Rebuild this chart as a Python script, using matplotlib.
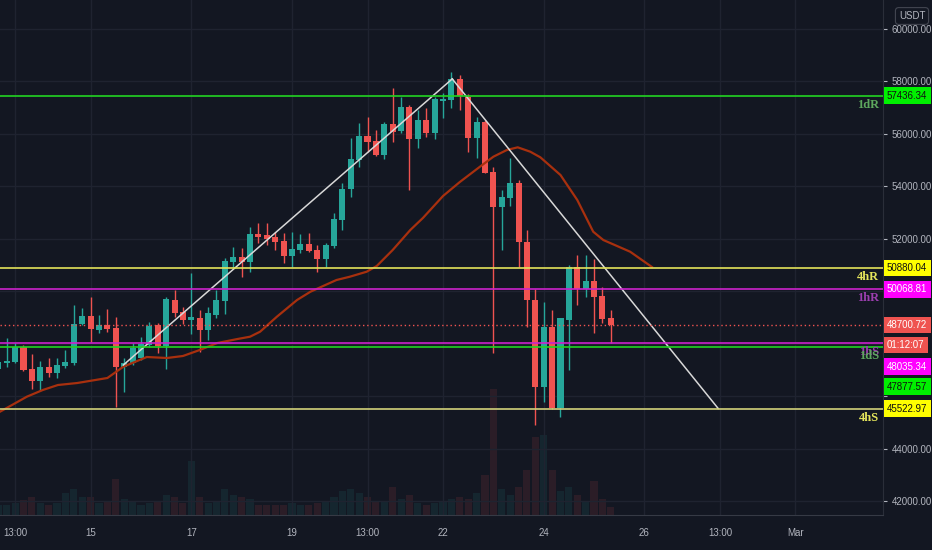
import numpy as np
import pandas as pd
import matplotlib
matplotlib.use('Agg')
import matplotlib.pyplot as plt
import matplotlib.dates as mdates
from matplotlib import font_manager
from matplotlib.transforms import blended_transform_factory

# BTC/USDT 4h candles (first candle 13 Feb 04:00)
opens = [47030, 47270, 47307, 47878, 47029, 46583, 47116, 46865, 47155, 47246,
         48731, 49048, 48514, 48705, 48590, 47116, 47269, 47448, 47943, 48705,
         47916, 49657, 49189, 48895, 48983, 48514, 49086, 49630, 51093, 51307,
         51117, 52171, 52133, 52046, 51905, 51333, 51562, 51790, 51562, 51219,
         51714, 52705, 53874, 54990, 55916, 55714, 55181, 56362, 56095, 56998,
         55790, 56514, 56031, 57250, 57276, 58065, 57402, 55840, 56450, 54533,
         53212, 53554, 54103, 51886, 49657, 46354, 48640, 45531, 48895, 50903,
         50065, 50393, 49822, 48960]
highs = [47560, 48210, 48019, 47943, 47600, 47345, 47448, 47448, 47752, 49467,
         49352, 49772, 49086, 49314, 49010, 47460, 48019, 48248, 48831, 48781,
         49784, 50038, 49379, 50697, 49276, 49403, 50038, 51245, 51688, 51627,
         52450, 52602, 52579, 52259, 52198, 52259, 52171, 52198, 51752, 51817,
         52983, 54103, 55817, 56389, 56640, 56133, 56450, 57722, 57402, 57086,
         56895, 56960, 57402, 57531, 58354, 58229, 57505, 56640, 56514, 54735,
         53848, 55055, 54229, 52324, 50065, 49593, 49276, 48971, 50990, 51371,
         51371, 51208, 50164, 49276]
lows = [46910, 47105, 47257, 46971, 46267, 46202, 46724, 46686, 47067, 47181,
        48705, 48057, 48400, 48438, 45592, 46164, 47181, 47371, 47878, 47650,
        47017, 49021, 48743, 48362, 47688, 48133, 48960, 49112, 50903, 50545,
        50735, 51817, 51752, 51562, 51055, 50903, 51436, 51497, 50735, 50926,
        51627, 52324, 53592, 54735, 55307, 55143, 55017, 55688, 56008, 53848,
        55436, 55878, 55790, 56579, 56960, 56895, 55307, 55055, 54484, 47627,
        51562, 53238, 50926, 48610, 44895, 45783, 45493, 45212, 46990, 49467,
        49783, 48389, 48793, 48030]
closes = [47295, 47345, 47878, 46990, 46583, 47116, 46865, 47181, 47295, 48743,
          49048, 48552, 48693, 48541, 47116, 47269, 47829, 47981, 48667, 47916,
          49684, 49150, 48895, 48998, 48514, 49150, 49657, 51143, 51307, 51117,
          52171, 52069, 51969, 51855, 51333, 51600, 51779, 51524, 51219, 51753,
          52731, 53886, 55017, 55916, 55665, 55181, 56362, 56069, 56998, 55790,
          56514, 56031, 57303, 57303, 58065, 57429, 55840, 56450, 54507, 53212,
          53593, 54103, 51855, 49657, 46354, 48640, 45531, 48960, 50903, 50065,
          50393, 49783, 48934, 48700.72]
volumes = [10, 10, 12, 15, 18, 12, 10, 12, 22, 26, 18, 18, 12, 14, 36, 16, 14,
           10, 12, 14, 20, 18, 12, 54, 18, 12, 14, 26, 20, 18, 16, 10, 10, 10,
           10, 12, 10, 10, 12, 14, 18, 24, 26, 22, 18, 14, 14, 28, 16, 20, 12,
           10, 12, 14, 16, 18, 16, 22, 40, 125, 26, 20, 28, 45, 78, 80, 45, 24,
           28, 20, 14, 34, 16, 8]

# moving average, read as (candle index, price)
ma_idx = [0.2, 3.4, 5.3, 7.1, 9.4, 13.0, 14.9, 17.7, 20.1, 22.0, 24.0, 26.1,
          28.5, 30.0, 31.2, 33.2, 35.6, 37.2, 40.3, 41.9, 43.9, 45.1, 47.0,
          49.1, 50.6, 53.0, 55.0, 57.4, 59.0, 60.6, 61.9, 63.4, 64.6, 67.0,
          69.0, 70.9, 72.1, 75.3, 77.9]
ma_val = [45402, 45974, 46229, 46419, 46495, 46686, 47116, 47486, 47448, 47524,
          47752, 48019, 48171, 48259, 48450, 49021, 49657, 49973, 50419, 50545,
          50735, 50952, 51562, 52324, 52781, 53619, 54152, 54735, 55116, 55371,
          55474, 55307, 55093, 54419, 53467, 52259, 51943, 51497, 50914]

# drawn trend lines: (candle index, price) pairs
trend_up = [(14.9, 47181), (54.1, 58080)]
trend_down = [(54.1, 58080), (85.8, 45523)]

# horizontal levels
levels = [('1dR', 57436.34), ('4hR', 50880.04), ('1hR', 50068.81),
          ('1hS', 48035.34), ('1dS', 47877.57), ('4hS', 45522.97)]
last_price = 48700.72
countdown = '01:12:07'

tick_dates = ['2021-02-13 12:00', '2021-02-15 00:00', '2021-02-17 00:00',
              '2021-02-19 00:00', '2021-02-20 12:00', '2021-02-22 00:00',
              '2021-02-24 00:00', '2021-02-26 00:00', '2021-02-27 12:00',
              '2021-03-01 00:00']
tick_labels = ['13:00', '15', '17', '19', '13:00', '22', '24', '26', '13:00', 'Mar']
price_ticks = list(range(42000, 60001, 2000))
# scale labels covered by the level boxes on the reference
hidden_ticks = [46000, 48000, 50000]

BG = '#131722'
GRID = '#1f2330'
TXT = '#b2b5be'
UP = '#26a69a'
DOWN = '#ef5350'

names = {f.name for f in font_manager.fontManager.ttflist}
axis_font = 'Liberation Sans Narrow' if 'Liberation Sans Narrow' in names else 'Liberation Sans'
axis_size = 8 if axis_font == 'Liberation Sans Narrow' else 7

times = pd.date_range('2021-02-13 04:00', periods=len(opens), freq='4h')
x = mdates.date2num(times)
step = 4 / 24


def idx_to_x(i):
    return x[0] + i * step


o = np.array(opens)
c = np.array(closes)
up = c >= o
cols = np.where(up, UP, DOWN)

fig = plt.figure(figsize=(9.32, 5.5), dpi=100, facecolor=BG)
ax = fig.add_axes([0, 35 / 550, 883 / 932, 515 / 550])
ax.set_facecolor(BG)

# volume in its own scale at the bottom
axv = ax.twinx()
axv.bar(x, volumes, width=step * 0.85, color=cols, alpha=0.11, linewidth=0, zorder=1)
axv.set_ylim(0, max(volumes) * 4.1)
axv.set_yticks([])
for s in axv.spines.values():
    s.set_visible(False)
ax.set_zorder(axv.get_zorder() + 1)
ax.patch.set_visible(False)
fig.patch.set_facecolor(BG)

# candles
ax.vlines(x, lows, highs, colors=cols, linewidth=1, zorder=3)
body = np.maximum(np.abs(c - o), 60)
ax.bar(x, body, bottom=np.minimum(o, c), width=step * 0.72, color=cols,
       linewidth=0, zorder=4)

# moving average
ax.plot([idx_to_x(i) for i in ma_idx], ma_val, color='#a8300e', lw=1.6, zorder=5)

# trend lines
for line in (trend_up, trend_down):
    ax.plot([idx_to_x(p[0]) for p in line], [p[1] for p in line],
            color='#d8d8d8', lw=1.1, zorder=6)

line_style = {
    '1dR': ('#22d422', '#00f000', '#111111', '#5ea85e'),
    '4hR': ('#e3e35a', '#ffff00', '#111111', '#e6e65c'),
    '1hR': ('#cc22cc', '#ff00ff', 'white', '#9c3fb0'),
    '1hS': ('#cc22cc', '#ff00ff', 'white', '#9c3fb0'),
    '1dS': ('#22d422', '#00f000', '#111111', '#5ea85e'),
    '4hS': ('#d2d27a', '#ffff00', '#111111', '#e6e65c'),
}
# pixel offsets of price boxes that were pushed apart on the scale
box_shift = {'1hS': -24, '1dS': -40}

trans = blended_transform_factory(ax.transAxes, ax.transData)
for name, val in levels:
    lc, bc, tc, nc = line_style[name]
    ax.axhline(val, color=lc, lw=1.2, zorder=7)
    ax.annotate(name, xy=(0.996, val), xycoords=trans, xytext=(0, -3),
                textcoords='offset pixels', ha='right', va='top', color=nc,
                fontsize=9, fontweight='bold', family='Liberation Serif', zorder=8)
    ax.annotate(f'{val:.2f}', xy=(1.0, val), xycoords=trans,
                xytext=(4, box_shift.get(name, 0)), textcoords='offset pixels',
                ha='left', va='center', color=tc, fontsize=axis_size,
                family=axis_font, annotation_clip=False, zorder=10,
                bbox=dict(boxstyle='square,pad=0.34', fc=bc, ec='none'))

# last price line and its labels
ax.axhline(last_price, color=DOWN, lw=1, ls=(0, (1, 2)), zorder=7)
ax.annotate(f'{last_price:.2f}', xy=(1.0, last_price), xycoords=trans,
            xytext=(4, 0), textcoords='offset pixels', ha='left', va='center',
            color='white', fontsize=axis_size, family=axis_font,
            annotation_clip=False, zorder=10,
            bbox=dict(boxstyle='square,pad=0.34', fc=DOWN, ec='none'))
ax.annotate(countdown, xy=(1.0, last_price), xycoords=trans,
            xytext=(4, -20), textcoords='offset pixels', ha='left', va='center',
            color='white', fontsize=axis_size, family=axis_font,
            annotation_clip=False, zorder=10,
            bbox=dict(boxstyle='square,pad=0.34', fc=DOWN, ec='none'))

# axes
x0 = mdates.date2num(pd.Timestamp('2021-02-13 04:48'))
x1 = mdates.date2num(pd.Timestamp('2021-03-02 17:45'))
ax.set_xlim(x0, x1)
axv.set_xlim(x0, x1)
ax.set_ylim(41467, 61086)

ax.yaxis.tick_right()
ax.set_yticks(price_ticks)
ax.set_yticklabels(['' if v in hidden_ticks else f'{v:.2f}' for v in price_ticks],
                   family=axis_font)
ax.set_xticks(mdates.date2num(pd.to_datetime(tick_dates)))
ax.set_xticklabels(tick_labels, family=axis_font)
ax.tick_params(axis='y', colors=TXT, labelsize=axis_size, length=3, pad=3)
ax.tick_params(axis='x', colors=TXT, labelsize=axis_size, length=0, pad=9)
ax.grid(True, color=GRID, lw=1, zorder=0)
ax.set_axisbelow(True)
for side in ('left', 'top'):
    ax.spines[side].set_visible(False)
ax.spines['right'].set_color('#2a2e39')
ax.spines['bottom'].set_color('#363a45')

fig.text(912 / 932, 1 - 16 / 550, 'USDT', color=TXT, fontsize=axis_size,
         family=axis_font, ha='center', va='center', zorder=20,
         bbox=dict(boxstyle='round,pad=0.35', fc=BG, ec='#434651', lw=0.8))

fig.savefig('out.png', dpi=100, facecolor=BG)
